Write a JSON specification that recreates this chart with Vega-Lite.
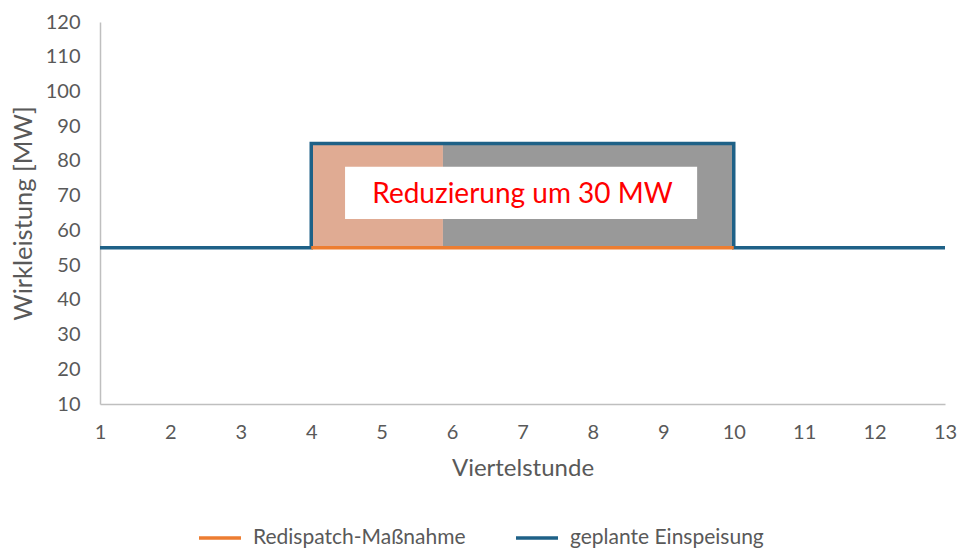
{
  "$schema": "https://vega.github.io/schema/vega-lite/v6.json",
  "width": 845,
  "height": 382,
  "autosize": {"type": "none"},
  "padding": {"left": 100, "top": 22, "right": 13, "bottom": 145},
  "background": "white",
  "config": {
    "view": {"stroke": null},
    "font": "Lato",
    "axis": {
      "domainColor": "#bfbfbf",
      "domainWidth": 1.5,
      "ticks": false,
      "grid": false,
      "labelColor": "#595959",
      "titleColor": "#595959",
      "labelFont": "Lato",
      "titleFont": "Lato",
      "labelFontSize": 20,
      "titleFontSize": 24,
      "titleFontWeight": "normal",
      "labelOverlap": false,
      "labelFlush": false
    }
  },
  "datasets": {
    "zoneA": [{"x": 4, "x2": 5.87, "y": 55, "y2": 85}],
    "zoneB": [{"x": 5.87, "x2": 10, "y": 55, "y2": 85}],
    "box": [{"x": 4.48, "x2": 9.48, "y": 63.3, "y2": 78.3}],
    "label": [{"x": 7, "y": 70.2, "text": "Reduzierung um 30 MW"}],
    "blue": [
      {"i": 1, "x": 1, "y": 55, "series": "geplante Einspeisung"},
      {"i": 2, "x": 4, "y": 55, "series": "geplante Einspeisung"},
      {"i": 3, "x": 4, "y": 85, "series": "geplante Einspeisung"},
      {"i": 4, "x": 10, "y": 85, "series": "geplante Einspeisung"},
      {"i": 5, "x": 10, "y": 55, "series": "geplante Einspeisung"},
      {"i": 6, "x": 13, "y": 55, "series": "geplante Einspeisung"}
    ],
    "orange": [
      {"i": 1, "x": 4, "y": 55, "series": "Redispatch-Maßnahme"},
      {"i": 2, "x": 10, "y": 55, "series": "Redispatch-Maßnahme"}
    ]
  },
  "encoding": {
    "x": {"field": "x", "type": "quantitative", "scale": {"domain": [1, 13], "nice": false, "zero": false},
          "axis": {"values": [1,2,3,4,5,6,7,8,9,10,11,12,13], "format": "d", "labelOverlap": false, "labelFlush": false, "title": "Viertelstunde", "labelPadding": 18, "titlePadding": 14}},
    "y": {"field": "y", "type": "quantitative", "scale": {"domain": [10, 120], "nice": false, "zero": false},
          "axis": {"values": [10,20,30,40,50,60,70,80,90,100,110,120], "format": "d", "labelOverlap": false, "labelFlush": false, "labelSeparation": 0, "title": "Wirkleistung [MW]", "titleFontSize": 25.5, "labelPadding": 20, "titlePadding": 9}}
  },
  "layer": [
    {
      "data": {"name": "zoneA"},
      "mark": {"type": "rect", "fill": "#e0ab93"},
      "encoding": {"x2": {"field": "x2"}, "y2": {"field": "y2"}}
    },
    {
      "data": {"name": "zoneB"},
      "mark": {"type": "rect", "fill": "#999999"},
      "encoding": {"x2": {"field": "x2"}, "y2": {"field": "y2"}}
    },
    {
      "data": {"name": "box"},
      "mark": {"type": "rect", "fill": "white"},
      "encoding": {"x2": {"field": "x2"}, "y2": {"field": "y2"}}
    },
    {
      "data": {"name": "label"},
      "mark": {"type": "text", "color": "#ff0000", "fontSize": 28, "font": "Lato", "align": "center", "baseline": "middle"},
      "encoding": {"text": {"field": "text"}}
    },
    {
      "data": {"name": "blue"},
      "mark": {"type": "line", "strokeWidth": 3.5, "strokeCap": "butt", "strokeJoin": "miter"},
      "encoding": {
        "order": {"field": "i"},
        "color": {"field": "series", "type": "nominal",
          "scale": {"domain": ["Redispatch-Maßnahme", "geplante Einspeisung"], "range": ["#ed7d31", "#1e6187"]},
          "legend": {"title": null, "orient": "none", "legendX": 97, "legendY": 493, "direction": "horizontal",
            "symbolType": "stroke", "symbolSize": 1764, "symbolStrokeWidth": 3.5, "labelFontSize": 21, "labelFont": "Lato",
            "labelColor": "#595959", "labelOffset": 10, "columnPadding": 43, "labelLimit": 400}}
      }
    },
    {
      "data": {"name": "orange"},
      "mark": {"type": "line", "strokeWidth": 3.5, "strokeCap": "butt"},
      "encoding": {
        "order": {"field": "i"},
        "color": {"field": "series", "type": "nominal"}
      }
    }
  ]
}
